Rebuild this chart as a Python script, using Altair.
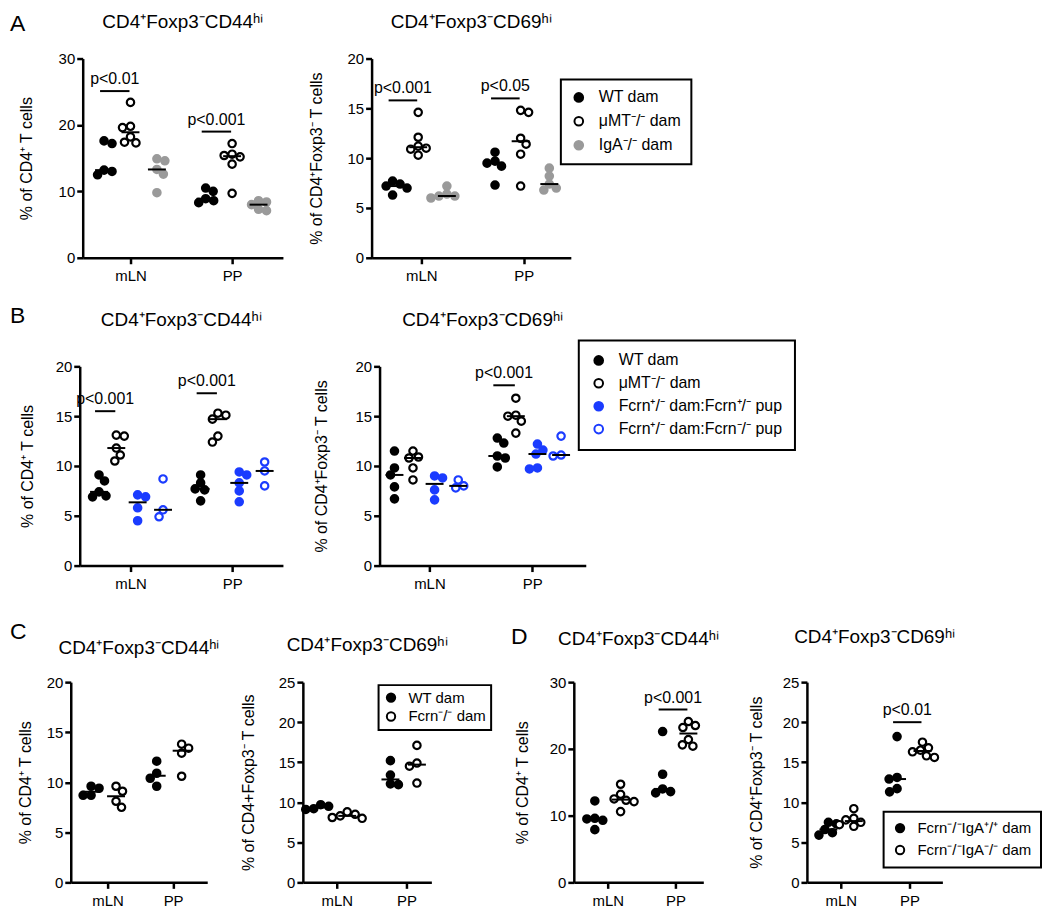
import altair as alt
import pandas as pd
import numpy as np

FONT = "Liberation Sans"
GREY = "#9a9a9a"
BLUE = "#1b3cff"
TISSUES = ["mLN", "PP"]

# ---------------- group labels ----------------
WT = "WT dam"
MUMT = "\u03bcMT\u207b/\u207b dam"
IGA = "IgA\u207b/\u207b dam"
FHET = "Fcrn\u207a/\u207b dam:Fcrn\u207a/\u207b pup"
FKO = "Fcrn\u207a/\u207b dam:Fcrn\u207b/\u207b pup"
FCRN_DAM = "Fcrn\u207b/\u207b dam"
D_IGA_WT = "Fcrn\u207b/\u207bIgA\u207a/\u207a dam"
D_IGA_KO = "Fcrn\u207b/\u207bIgA\u207b/\u207b dam"

T44 = "CD4\u207aFoxp3\u207bCD44\u02b0\u2071"
T69 = "CD4\u207aFoxp3\u207bCD69\u02b0\u2071"
Y_CD4 = "% of CD4\u207a T cells"
Y_FOX = "% of CD4\u207aFoxp3\u207b T cells"
Y_FOX_C = "% of CD4+Foxp3\u207b T cells"

# ---------------- data ----------------
# Panel A, CD44hi
A44_WT = {"mLN": [17.6, 17.2, 13.2, 13.0, 12.5], "PP": [10.5, 10.0, 8.9, 8.6, 8.3]}
A44_MUMT = {"mLN": [23.4, 19.8, 19.6, 18.2, 17.4, 17.3], "PP": [17.2, 15.6, 15.4, 15.2, 14.1, 9.7]}
A44_IGA = {"mLN": [14.9, 14.6, 13.3, 12.6, 9.8], "PP": [8.6, 8.4, 8.0, 7.3, 7.1]}
# Panel A, CD69hi
A69_WT = {"mLN": [7.7, 7.4, 7.2, 7.0, 6.3], "PP": [10.6, 9.7, 9.5, 9.2, 7.3]}
A69_MUMT = {"mLN": [14.6, 12.1, 11.2, 11.0, 10.9, 10.3], "PP": [14.8, 14.6, 12.0, 11.4, 10.4, 7.2]}
A69_IGA = {"mLN": [7.2, 6.4, 6.2, 6.0, 6.2], "PP": [9.0, 8.2, 7.4, 7.0, 6.8]}
# Panel B, CD44hi
B44_WT = {"mLN": [9.1, 8.5, 7.4, 7.0, 6.9], "PP": [9.1, 8.3, 7.7, 7.6, 6.5]}
B44_MUMT = {"mLN": [13.1, 13.0, 11.8, 11.1, 10.5], "PP": [15.3, 15.1, 14.7, 13.0, 12.4]}
B44_FHET = {"mLN": [7.1, 6.9, 5.8, 4.5], "PP": [9.4, 9.1, 8.3, 7.5, 6.4]}
B44_FKO = {"mLN": [8.7, 5.6, 4.9], "PP": [10.4, 9.5, 8.0]}
# Panel B, CD69hi
B69_WT = {"mLN": [11.5, 9.8, 9.1, 7.9, 6.7], "PP": [12.8, 12.3, 11.0, 10.8, 9.9]}
B69_MUMT = {"mLN": [11.5, 10.9, 10.8, 9.8, 8.6], "PP": [16.8, 15.1, 15.0, 14.5, 13.3]}
B69_FHET = {"mLN": [9.0, 8.8, 7.6, 6.6], "PP": [12.2, 11.6, 11.2, 9.8, 9.7]}
B69_FKO = {"mLN": [8.6, 8.0, 7.8], "PP": [13.0, 11.1, 11.0]}
# Panel C
C44_WT = {"mLN": [9.6, 9.4, 8.7, 8.7], "PP": [12.1, 10.9, 10.4, 9.6]}
C44_KO = {"mLN": [9.6, 9.1, 8.1, 7.5], "PP": [13.8, 13.4, 12.9, 10.6]}
C69_WT = {"mLN": [9.7, 9.5, 9.2, 9.1], "PP": [15.2, 13.4, 12.3, 12.2]}
C69_KO = {"mLN": [8.8, 8.5, 8.3, 8.1, 8.0], "PP": [17.1, 14.9, 14.5, 12.4]}
# Panel D
D44_WT = {"mLN": [12.2, 9.6, 9.5, 9.3, 7.9], "PP": [22.6, 16.2, 14.0, 13.6, 13.4]}
D44_KO = {"mLN": [14.7, 13.2, 12.5, 12.3, 12.1, 10.6], "PP": [24.1, 23.5, 23.2, 21.4, 20.6, 20.4]}
D69_WT = {"mLN": [7.5, 7.3, 6.6, 6.2, 5.9], "PP": [18.2, 13.1, 12.9, 11.7, 11.3]}
D69_KO = {"mLN": [9.2, 8.0, 7.8, 7.5, 7.2, 7.0], "PP": [17.5, 16.8, 16.5, 16.3, 15.8, 15.6]}

# significance brackets: (tissue, label, y)
A44_P = [("mLN", "p<0.01", 25.1), ("PP", "p<0.001", 19.0)]
A69_P = [("mLN", "p<0.001", 15.8), ("PP", "p<0.05", 16.0)]
B44_P = [("mLN", "p<0.001", 15.5), ("PP", "p<0.001", 17.3)]
B69_P = [("PP", "p<0.001", 18.1)]
D44_P = [("PP", "p<0.001", 25.9)]
D69_P = [("PP", "p<0.01", 20.0)]


def swarm(vals, ppy, diam=8.0):
    order = sorted(range(len(vals)), key=lambda i: -vals[i])
    placed, out = [], [0.0] * len(vals)
    steps = np.arange(0.0, 40.0, 0.5)
    for k, i in enumerate(order):
        y = vals[i] * ppy
        sgn = 1 if k % 2 else -1
        cands = []
        for s in steps:
            cands += [sgn * s, -sgn * s] if s > 0 else [0.0]
        for c in cands:
            if all((c - px) ** 2 + (y - py) ** 2 >= diam * diam for px, py in placed):
                out[i] = c
                placed.append((c, y))
                break
    return out


def make_panel(series, offsets, width, height, xdom, ymax, ystep, ytitle, title, toff,
               box, tpad, brackets=(), legend=None, letter=None):
    ppx = width / (xdom[1] - xdom[0])
    ppy = height / ymax
    rows, meds = [], []
    labels = [s[0] for s in series]
    fills = [s[2] for s in series]
    strokes = [s[3] for s in series]
    for gi, (lab, data, _f, _s) in enumerate(series):
        for ti, t in enumerate(TISSUES):
            vals = data[t]
            c = ti + 1 + offsets[gi]
            dx = swarm(vals, ppy)
            for v, d in zip(vals, dx):
                rows.append({"g": lab, "t": t, "v": v, "x": c + d / ppx})
            meds.append({"x1": c - 9 / ppx, "x2": c + 9 / ppx, "m": float(np.median(vals))})
    df = pd.DataFrame(rows)
    mdf = pd.DataFrame(meds)

    xs = alt.Scale(domain=list(xdom), nice=False, zero=False)
    ys = alt.Scale(domain=[0, ymax], nice=False)
    xaxis = alt.Axis(values=[1, 2], labelExpr="datum.value == 1 ? 'mLN' : 'PP'", title=None,
                     grid=False, tickSize=6, labelPadding=5, labelAngle=0)
    yaxis = alt.Axis(values=list(range(0, ymax + 1, ystep)), title=ytitle, grid=False,
                     tickSize=6, labelPadding=2, titlePadding=tpad)

    leg = None
    if legend is not None:
        leg = alt.Legend(orient="none", title=None, symbolType="circle",
                         symbolStrokeWidth=2, labelFont=FONT, labelColor="black",
                         labelLimit=400, strokeColor="black", **legend)
    # invisible frame fixing this panel's extent inside the grid
    L, R, T, B = box
    layers = [
        alt.Chart(pd.DataFrame({"k": [0]})).mark_rule(opacity=0, strokeWidth=1).encode(
            x=alt.value(-L), x2=alt.value(width + R), y=alt.value(-T), y2=alt.value(height + B)),
        alt.Chart(df).mark_point(shape="circle", size=55, strokeWidth=2.2, opacity=1).encode(
            x=alt.X("x:Q", scale=xs, axis=xaxis),
            y=alt.Y("v:Q", scale=ys, axis=yaxis),
            fill=alt.Fill("g:N", scale=alt.Scale(domain=labels, range=fills), legend=leg),
            stroke=alt.Stroke("g:N", scale=alt.Scale(domain=labels, range=strokes), legend=leg),
        ),
        alt.Chart(mdf).mark_rule(color="black", strokeWidth=2).encode(
            x=alt.X("x1:Q", scale=xs, axis=xaxis), x2="x2:Q",
            y=alt.Y("m:Q", scale=ys, axis=yaxis),
        ),
        alt.Chart(pd.DataFrame({"T": [title]})).mark_text(
            fontSize=19, font=FONT, color="black", align="center", baseline="alphabetic").encode(
            x=alt.value(width / 2), y=alt.value(-toff), text="T:N"),
    ]
    if brackets:
        brow = []
        for t, lab, yv in brackets:
            ti = TISSUES.index(t)
            x1 = ti + 1 + offsets[0] - 4 / ppx
            x2 = ti + 1 + offsets[1] - 1 / ppx
            brow.append({"x1": x1, "x2": x2, "xc": (x1 + x2) / 2, "y": yv, "lab": lab})
        bdf = pd.DataFrame(brow)
        layers.append(alt.Chart(bdf).mark_rule(color="black", strokeWidth=2).encode(
            x=alt.X("x1:Q", scale=xs, axis=xaxis), x2="x2:Q",
            y=alt.Y("y:Q", scale=ys, axis=yaxis)))
        layers.append(alt.Chart(bdf).mark_text(fontSize=16, font=FONT, color="black",
                                               baseline="alphabetic", dy=-7).encode(
            x=alt.X("xc:Q", scale=xs, axis=xaxis),
            y=alt.Y("y:Q", scale=ys, axis=yaxis), text="lab:N"))
    if letter is not None:
        layers.append(alt.Chart(pd.DataFrame({"L": [letter[0]]})).mark_text(
            fontSize=23, font=FONT, color="black", align="left", baseline="alphabetic").encode(
            x=alt.value(letter[1]), y=alt.value(letter[2]), text="L:N"))
    return alt.layer(*layers).properties(width=width, height=height)


def anchor():
    # 1px invisible first cell: makes every row start from the same left edge
    return alt.Chart(pd.DataFrame({"k": [0]})).mark_rule(opacity=0, strokeWidth=1).encode(
        x=alt.value(0), x2=alt.value(1), y=alt.value(0), y2=alt.value(1)
    ).properties(width=1, height=1)


A1 = make_panel([(WT, A44_WT, "black", "black"), (MUMT, A44_MUMT, "white", "black"),
                 (IGA, A44_IGA, GREY, GREY)],
                [-0.26, 0.0, 0.26], 201, 200, (0.53, 2.5), 30, 10, Y_CD4, T44, 31,
                (74, 19, 58, 29), 24, brackets=A44_P, letter=("A", -73, -28))
A2 = make_panel([(WT, A69_WT, "black", "black"), (MUMT, A69_MUMT, "white", "black"),
                 (IGA, A69_IGA, GREY, GREY)],
                [-0.28, -0.03, 0.25], 200, 200, (0.515, 2.46), 20, 5, Y_FOX, T69, 31,
                (70, 130, 58, 29), 23, brackets=A69_P,
                legend=dict(legendX=190, legendY=21, labelFontSize=16, symbolSize=75,
                            rowPadding=6, padding=10, labelOffset=12))
B1 = make_panel([(WT, B44_WT, "black", "black"), (MUMT, B44_MUMT, "white", "black"),
                 (FHET, B44_FHET, BLUE, BLUE), (FKO, B44_FKO, "white", BLUE)],
                [-0.31, -0.14, 0.07, 0.32], 204, 200, (0.5, 2.5), 20, 5, Y_CD4, T44, 41,
                (71, 25, 80, 30), 20, brackets=B44_P, letter=("B", -70, -44))
B2 = make_panel([(WT, B69_WT, "black", "black"), (MUMT, B69_MUMT, "white", "black"),
                 (FHET, B69_FHET, BLUE, BLUE), (FKO, B69_FKO, "white", BLUE)],
                [-0.34, -0.16, 0.05, 0.28], 207, 200, (0.515, 2.52), 20, 5, Y_FOX, T69, 41,
                (72, 215, 80, 30), 26, brackets=B69_P,
                legend=dict(legendX=200, legendY=-26, labelFontSize=16, symbolSize=75,
                            rowPadding=5, padding=12, labelOffset=12))
C1 = make_panel([(WT, C44_WT, "black", "black"), (FCRN_DAM, C44_KO, "white", "black")],
                [-0.25, 0.13], 137, 201, (0.44, 2.52), 20, 5, Y_CD4, T44, 28,
                (62, 26, 87, 20), 13, letter=("C", -61, -43))
C2 = make_panel([(WT, C69_WT, "black", "black"), (FCRN_DAM, C69_KO, "white", "black")],
                [-0.23, 0.15], 129, 201, (0.514, 2.357), 25, 5, Y_FOX_C, T69, 31,
                (70, 75, 87, 20), 22,
                legend=dict(legendX=76, legendY=3, labelFontSize=15, symbolSize=70,
                            rowPadding=2, padding=5, labelOffset=10))
D1 = make_panel([(D_IGA_WT, D44_WT, "black", "black"), (D_IGA_KO, D44_KO, "white", "black")],
                [-0.19, 0.19], 130, 201, (0.5, 2.41), 30, 10, Y_CD4, T44, 37,
                (68, 38, 87, 20), 19, brackets=D44_P, letter=("D", -63, -38))
D2 = make_panel([(D_IGA_WT, D69_WT, "black", "black"), (D_IGA_KO, D69_KO, "white", "black")],
                [-0.18, 0.19], 136, 201, (0.507, 2.48), 25, 5, Y_FOX, T69, 39,
                (66, 100, 87, 20), 18, brackets=D69_P,
                legend=dict(legendX=77, legendY=130, labelFontSize=15, symbolSize=70,
                            rowPadding=5, padding=9, labelOffset=10))

IND = dict(fill="independent", stroke="independent")
rowA = alt.hconcat(anchor(), A1, A2, spacing=0).resolve_scale(**IND).resolve_legend(**IND)
rowB = alt.hconcat(anchor(), B1, B2, spacing=0).resolve_scale(**IND).resolve_legend(**IND)
rowC = alt.hconcat(anchor(), C1, C2, D1, D2, spacing=0).resolve_scale(**IND).resolve_legend(**IND)

chart = alt.vconcat(rowA, rowB, rowC, spacing=0).resolve_scale(**IND).resolve_legend(
    **IND).properties(padding={"left": 0, "top": -9, "right": 0, "bottom": 0}).configure_view(
    stroke=None).configure_axis(
    domainColor="black", domainWidth=2.5, tickColor="black", tickWidth=2.5,
    labelFont=FONT, labelFontSize=15, labelColor="black",
    titleFont=FONT, titleFontSize=16, titleFontWeight="normal", titleColor="black",
).configure_legend(strokeColor="black", strokeWidth=2)

chart.save("out.html", embed_options={"renderer": "svg", "actions": False})
